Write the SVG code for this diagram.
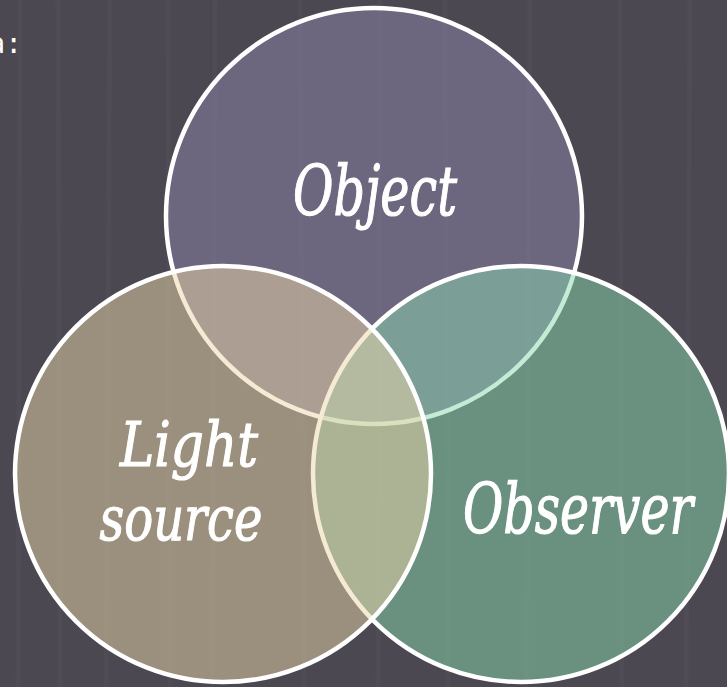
<svg xmlns="http://www.w3.org/2000/svg" width="727" height="687" viewBox="0 0 727 687">
<defs>
<style>
.c{stroke:#ffffff;stroke-width:4.5;}
.t{font-family:"DejaVu Serif","Liberation Serif",serif;font-style:italic;fill:#ffffff;stroke:#ffffff;stroke-width:1.2;text-anchor:middle;}
.s{stroke:#ffffff;stroke-opacity:0.025;stroke-width:5;}
</style>
</defs>
<rect width="727" height="687" fill="#4b4852"/>
<g id="streaks">
<line class="s" x1="20" y1="0" x2="18" y2="687"/>
<line class="s" x1="58" y1="0" x2="60" y2="687"/>
<line class="s" x1="110" y1="0" x2="106" y2="687"/>
<line class="s" x1="168" y1="0" x2="170" y2="687"/>
<line class="s" x1="215" y1="0" x2="212" y2="687"/>
<line class="s" x1="300" y1="0" x2="304" y2="687"/>
<line class="s" x1="380" y1="0" x2="378" y2="687"/>
<line class="s" x1="445" y1="0" x2="448" y2="687"/>
<line class="s" x1="530" y1="0" x2="526" y2="687"/>
<line class="s" x1="620" y1="0" x2="622" y2="687"/>
<line class="s" x1="690" y1="0" x2="686" y2="687"/>
</g>
<text x="22" y="53" font-family="DejaVu Sans Mono, monospace" font-size="28" fill="#ffffff" text-anchor="end">a:</text>
<g id="object">
<circle class="c" cx="374" cy="216" r="208" fill="#8d84aa" fill-opacity="0.5"/>
</g>
<g id="observer">
<circle class="c" cx="521" cy="474" r="208" fill="#89d8ae" fill-opacity="0.5"/>
</g>
<g id="light-source">
<circle class="c" cx="223" cy="474" r="208" fill="#ebd6a8" fill-opacity="0.5"/>
</g>
<g id="labels">
<text class="t" x="375" y="215" font-size="70" textLength="164" lengthAdjust="spacingAndGlyphs">Object</text>
<text class="t" x="189" y="466" font-size="62" textLength="138" lengthAdjust="spacingAndGlyphs">Light</text>
<text class="t" x="181" y="540" font-size="62" textLength="163" lengthAdjust="spacingAndGlyphs">source</text>
<text class="t" x="578" y="533" font-size="70" textLength="230" lengthAdjust="spacingAndGlyphs">Observer</text>
</g>
</svg>
